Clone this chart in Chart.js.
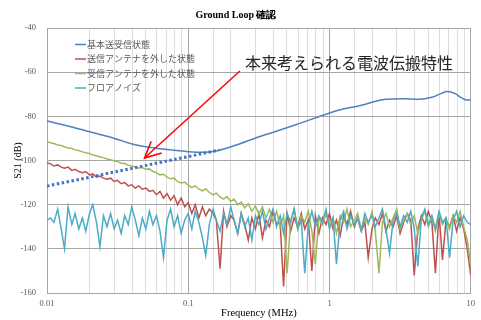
<!DOCTYPE html>
<html><head><meta charset="utf-8">
<script src="https://cdn.jsdelivr.net/npm/chart.js@4/dist/chart.umd.min.js"></script>
<style>html,body{margin:0;padding:0;background:#fff;}#wrap{width:481px;height:320px;}</style>
</head><body><div id="wrap"><canvas id="c" width="481" height="320"></canvas></div>
<script>
const chartTitle = 'Ground Loop 確認';
const xTitle = 'Frequency (MHz)';
const yTitle = 'S21 (dB)';
const seriesNames = ['基本送受信状態', '送信アンテナを外した状態', '受信アンテナを外した状態', 'フロアノイズ'];
const xTickLabels = ['0.01', '0.1', '1', '10'];

// 基本送受信状態 (smooth)
const mainFreq = [0.01,0.015,0.02,0.03,0.04,0.05,0.07,0.1,0.13,0.16,0.23,0.3,0.4,0.6,0.84,1.17,1.6,2.5,3.3,4.3,5.3,6.2,6.8,7.7,8.5,9.3,10];
const mainValues = [-82.1,-84.8,-87,-90,-92.5,-93.8,-95,-96,-96.3,-95.6,-92.5,-89.8,-87.2,-83.4,-80.2,-77.1,-75.3,-72.3,-72,-72.3,-71.4,-69.6,-68.8,-69.6,-71.4,-72.6,-72.6];

// common frequency samples of the noisy traces
const noiseFreq = [
0.0100,0.0106,0.0112,0.0119,0.0126,0.0133,0.0141,0.0150,0.0158,0.0168,0.0178,0.0188,0.0200,0.0211,0.0224,0.0237,0.0251,0.0266,0.0282,0.0299,
0.0316,0.0335,0.0355,0.0376,0.0398,0.0422,0.0447,0.0473,0.0501,0.0531,0.0562,0.0596,0.0631,0.0668,0.0708,0.0750,0.0794,0.0841,0.0891,0.0944,
0.100,0.106,0.112,0.119,0.126,0.133,0.141,0.150,0.158,0.168,0.178,0.188,0.200,0.211,0.224,0.237,0.251,0.266,0.282,0.299,
0.316,0.335,0.355,0.376,0.398,0.422,0.447,0.473,0.501,0.531,0.562,0.596,0.631,0.668,0.708,0.750,0.794,0.841,0.891,0.944,
1.00,1.06,1.12,1.19,1.26,1.33,1.41,1.50,1.58,1.68,1.78,1.88,2.00,2.11,2.24,2.37,2.51,2.66,2.82,2.99,
3.16,3.35,3.55,3.76,3.98,4.22,4.47,4.73,5.01,5.31,5.62,5.96,6.31,6.68,7.08,7.50,7.94,8.41,8.91,9.44,
10.0];

// 送信アンテナを外した状態
const txOffValues = [
-101,-101.5,-102.5,-102,-103,-103.5,-103,-104.5,-104,-105,
-105.5,-105,-106.5,-106,-107.5,-107,-108,-108.5,-108,-109.5,
-109,-110.5,-110,-111.5,-111,-112.5,-111.5,-113,-112.5,-114,
-113.5,-115.5,-114,-117,-115,-118,-116,-120,-117,-121,
-119,-124,-120,-126,-121,-125,-122,-124,-127,-149,
-123,-130,-125,-127,-133,-124,-129,-136,-126,-131,
-124,-135,-127,-130,-123,-129,-128,-157,-124,-132,
-126,-130,-124,-131,-127,-150,-125,-133,-126,-129,
-124,-131,-127,-134,-125,-129,-123,-130,-126,-132,
-128,-144,-131,-126,-129,-124,-132,-127,-130,-125,
-133,-128,-124,-127,-152,-131,-125,-129,-123,-128,
-151,-124,-145,-127,-130,-125,-132,-126,-131,-140,
-152];

// 受信アンテナを外した状態
const rxOffValues = [
-91.5,-92,-92.3,-93,-93.2,-93.8,-94.3,-94.6,-95.2,-95.5,
-96.1,-96.5,-96.8,-97.5,-97.8,-98.4,-98.7,-99.3,-99.6,-100.2,
-100.5,-101.2,-101.4,-102.1,-102.5,-102.9,-103.4,-103.2,-104,-103.8,
-105,-105.6,-106.5,-106.2,-107.5,-108.3,-108,-109.6,-110.2,-109.8,
-111.2,-112.3,-111.5,-113,-113.8,-112.8,-114.5,-115.6,-114.8,-116.5,
-117.5,-116.3,-118.6,-117.5,-120,-118.8,-121.5,-119.5,-123,-120.5,
-124.5,-121,-126,-122,-128,-123,-130,-125,-151,-127,
-122,-131,-125,-128,-123,-132,-147,-126,-129,-124,
-130,-126,-133,-125,-128,-122,-130,-127,-124,-131,
-126,-129,-123,-132,-151,-128,-124,-130,-126,-122,
-131,-127,-124,-129,-125,-133,-127,-123,-130,-126,
-132,-124,-129,-126,-131,-125,-128,-123,-130,-136,
-147];

// フロアノイズ
const floorValues = [
-127,-126,-128,-122,-131,-140,-121,-129,-124,-131,
-126,-132,-124,-120,-128,-139,-125,-130,-124,-131,
-127,-133,-125,-129,-121,-127,-134,-126,-131,-123,
-129,-125,-132,-144,-127,-122,-130,-125,-133,-127,
-124,-131,-123,-128,-135,-143,-129,-122,-127,-132,
-124,-129,-121,-127,-133,-124,-130,-126,-136,-125,
-129,-123,-131,-126,-122,-130,-125,-133,-124,-128,
-122,-131,-127,-151,-129,-123,-130,-125,-128,-122,
-131,-126,-147,-127,-123,-131,-125,-129,-126,-132,
-124,-128,-125,-130,-126,-122,-131,-142,-127,-124,
-130,-125,-128,-123,-131,-148,-126,-122,-129,-125,
-131,-123,-128,-126,-144,-127,-123,-130,-125,-128,
-129];

// expected propagation trend (dotted)
const trendFreq = [0.01, 0.165];
const trendValues = [-111.6, -95.3];

// annotation (data coordinates)
const annotationText = '本来考えられる電波伝搬特性';
const annotationAt = [0.252, -55.9];
const arrowFrom = [0.232, -59.5];
const arrowTo = [0.049, -98.9];

const colors = ['#4F81BD', '#C0504D', '#9BBB59', '#4BACC6'];

function pts(xs, ys) { return xs.map((x, i) => ({x: x, y: ys[i]})); }

const overlay = {
  id: 'overlay',
  afterDraw(chart) {
    const ctx = chart.ctx, xs = chart.scales.x, ys = chart.scales.y;
    ctx.save();
    // legend
    ctx.font = '9px "Noto Sans CJK JP"';
    ctx.textBaseline = 'middle';
    ctx.textAlign = 'left';
    const rows = [44.5, 59, 73.5, 88];
    seriesNames.forEach((n, i) => {
      ctx.strokeStyle = colors[i];
      ctx.lineWidth = 1.5;
      ctx.beginPath(); ctx.moveTo(75, rows[i]); ctx.lineTo(86, rows[i]); ctx.stroke();
      ctx.fillStyle = '#595959';
      ctx.fillText(n, 87, rows[i]);
    });
    // annotation text
    ctx.font = '16px "Noto Sans CJK JP"';
    ctx.fillStyle = '#262626';
    ctx.fillText(annotationText, xs.getPixelForValue(annotationAt[0]), ys.getPixelForValue(annotationAt[1]));
    // arrow
    const x1 = xs.getPixelForValue(arrowFrom[0]), y1 = ys.getPixelForValue(arrowFrom[1]);
    const x2 = xs.getPixelForValue(arrowTo[0]), y2 = ys.getPixelForValue(arrowTo[1]);
    ctx.strokeStyle = '#FF0000';
    ctx.lineWidth = 1.5;
    ctx.beginPath(); ctx.moveTo(x1, y1); ctx.lineTo(x2, y2); ctx.stroke();
    const ang = Math.atan2(y1 - y2, x1 - x2);
    const L = 18, a = 0.45;
    ctx.beginPath();
    ctx.moveTo(x2 + L * Math.cos(ang - a), y2 + L * Math.sin(ang - a));
    ctx.lineTo(x2, y2);
    ctx.lineTo(x2 + L * Math.cos(ang + a), y2 + L * Math.sin(ang + a));
    ctx.stroke();
    ctx.restore();
  }
};

const serif = '"Liberation Serif", "Times New Roman", serif';

new Chart(document.getElementById('c'), {
  type: 'line',
  data: {
    datasets: [
      {label: seriesNames[0], data: pts(mainFreq, mainValues), borderColor: colors[0], borderWidth: 1.5, pointRadius: 0, cubicInterpolationMode: 'monotone', order: 4},
      {label: seriesNames[1], data: pts(noiseFreq, txOffValues), borderColor: colors[1], borderWidth: 1.5, pointRadius: 0, tension: 0, order: 3},
      {label: seriesNames[2], data: pts(noiseFreq, rxOffValues), borderColor: colors[2], borderWidth: 1.5, pointRadius: 0, tension: 0, order: 2},
      {label: seriesNames[3], data: pts(noiseFreq, floorValues), borderColor: colors[3], borderWidth: 1.5, pointRadius: 0, tension: 0, order: 1},
      {label: 'trend', data: pts(trendFreq, trendValues), borderColor: '#4472C4', borderWidth: 3, borderDash: [2.5, 2.5], pointRadius: 0, order: 0}
    ]
  },
  options: {
    responsive: false,
    animation: false,
    devicePixelRatio: 1,
    layout: {padding: {left: 0, right: 9, top: 0, bottom: 0}},
    plugins: {
      legend: {display: false},
      tooltip: {enabled: false},
      title: {display: true, text: chartTitle, color: '#000', font: {family: serif, size: 10, weight: 'bold'}, padding: {top: 9, bottom: 7}}
    },
    scales: {
      x: {
        type: 'logarithmic', min: 0.01, max: 10,
        afterFit(s) { s.height = 27; },
        grid: {
          drawTicks: false,
          color: (c) => (c.tick && xTickLabels.includes(String(c.tick.value))) ? '#A6A6A6' : '#DCDCDC',
          lineWidth: 1
        },
        border: {color: '#A6A6A6'},
        ticks: {
          autoSkip: false, maxRotation: 0, padding: 6, color: '#595959',
          font: {family: serif, size: 8.5},
          callback: (v) => xTickLabels.includes(String(v)) ? String(v) : ''
        },
        title: {display: true, text: xTitle, color: '#000', font: {family: serif, size: 10.5}, padding: {top: 0.5, bottom: 0}}
      },
      y: {
        min: -160, max: -40,
        afterFit(s) { s.width = 47; },
        grid: {drawTicks: false, color: '#A6A6A6'},
        border: {color: '#A6A6A6'},
        ticks: {stepSize: 20, padding: 11, color: '#595959', font: {family: serif, size: 8.5}},
        title: {display: true, text: yTitle, color: '#000', font: {family: serif, size: 10}, padding: {top: 12, bottom: 0}}
      }
    }
  },
  plugins: [overlay]
});
</script>
</body></html>
